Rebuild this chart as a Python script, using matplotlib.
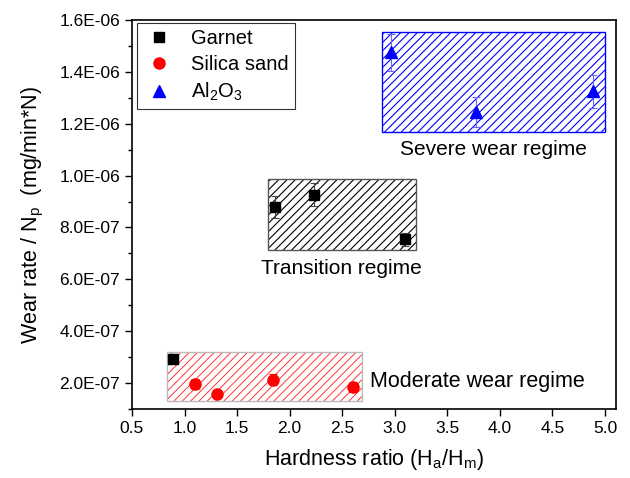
import numpy as np
import matplotlib
matplotlib.use('Agg')
import matplotlib.pyplot as plt
from matplotlib.patches import Rectangle
from matplotlib.lines import Line2D
from matplotlib.ticker import FuncFormatter, MultipleLocator

plt.rcParams['font.family'] = ['Liberation Sans', 'DejaVu Sans']
plt.rcParams['mathtext.default'] = 'regular'
plt.rcParams['hatch.linewidth'] = 0.8

# data
garnet_x = [0.89, 1.86, 2.23, 3.10]
garnet_y = [2.92e-7, 8.80e-7, 9.27e-7, 7.54e-7]
garnet_err = [1.0e-8, 4.2e-8, 4.6e-8, 2.5e-8]

sand_x = [1.10, 1.31, 1.84, 2.60]
sand_y = [1.96e-7, 1.56e-7, 2.13e-7, 1.85e-7]
sand_err = [2.0e-8, 1.5e-8, 2.2e-8, 2.0e-8]

al_x = [2.96, 3.77, 4.89]
al_y = [1.475e-6, 1.245e-6, 1.325e-6]
al_err = [7.0e-8, 5.8e-8, 6.3e-8]

# regime boxes: x0, x1, y0, y1
sev_box = [2.88, 5.00, 1.169e-6, 1.554e-6]
tra_box = [1.79, 3.20, 7.12e-7, 9.85e-7]
mod_box = [0.835, 2.69, 1.31e-7, 3.19e-7]

fig = plt.figure(figsize=(6.3, 4.78), dpi=100)
ax = fig.add_axes([0.2095, 0.1444, 0.7683, 0.8138])

def box(b, hcol, ecol, hatch, hlw=0.8):
    with plt.rc_context({'hatch.linewidth': hlw}):
        ax.add_patch(Rectangle((b[0], b[2]), b[1]-b[0], b[3]-b[2], fill=False,
                               hatch=hatch, edgecolor=hcol, linewidth=0, zorder=1))
    ax.add_patch(Rectangle((b[0], b[2]), b[1]-b[0], b[3]-b[2], fill=False,
                           edgecolor=ecol, linewidth=1.0, zorder=1))

box(sev_box, 'blue', 'blue', '////')
box(tra_box, 'black', '#555555', '////')
box(mod_box, '#ff3333', '#bbbbbb', '////', 0.7)

ax.errorbar(garnet_x, garnet_y, yerr=garnet_err, fmt='s', color='black', ms=7,
            ecolor='#444444', elinewidth=0.8, capsize=3, capthick=0.8, zorder=3)
ax.errorbar(sand_x, sand_y, yerr=sand_err, fmt='o', color='red', ms=8,
            ecolor='red', elinewidth=0.8, capsize=3, capthick=0.8, zorder=3)
ax.errorbar(al_x, al_y, yerr=al_err, fmt='^', color='blue', ms=9,
            ecolor='#6666ff', elinewidth=0.8, capsize=3, capthick=0.8, zorder=3)

ax.text(3.94, 1.10e-6, 'Severe wear regime', fontsize=15, ha='center', va='center')
ax.text(2.49, 6.40e-7, 'Transition regime', fontsize=15, ha='center', va='center')
ax.text(2.76, 2.05e-7, 'Moderate wear regime', fontsize=15.5, ha='left', va='center')

ax.set_xlim(0.5, 5.105)
ax.set_ylim(1e-7, 1.6e-6)
ax.xaxis.set_major_locator(MultipleLocator(0.5))
ax.yaxis.set_major_locator(MultipleLocator(2e-7))
ax.yaxis.set_minor_locator(MultipleLocator(1e-7))
ax.yaxis.set_major_formatter(FuncFormatter(lambda v, p: '%.1E' % v))
ax.tick_params(axis='both', which='major', labelsize=12.5, length=5, width=1)
ax.tick_params(axis='y', which='minor', length=3, width=1)
for s in ax.spines.values():
    s.set_linewidth(1.2)

ax.set_xlabel('Hardness ratio (H$_a$/H$_m$)', fontsize=15.5, labelpad=8)
ax.set_ylabel('Wear rate / N$_p$  (mg/min*N)', fontsize=15.5, labelpad=10)

handles = [Line2D([], [], ls='none', marker='s', color='black', ms=7),
           Line2D([], [], ls='none', marker='o', color='red', ms=8),
           Line2D([], [], ls='none', marker='^', color='blue', ms=9)]
labels = ['Garnet', 'Silica sand', 'Al$_2$O$_3$']
leg = ax.legend(handles, labels, loc='upper left', bbox_to_anchor=(137/630, 1-23/478),
                bbox_transform=fig.transFigure, borderaxespad=0, fontsize=14.5,
                frameon=True, fancybox=False, edgecolor='black', borderpad=0.3,
                handletextpad=0.8, labelspacing=0.35, handlelength=1.6)
leg.get_frame().set_linewidth(0.8)

fig.savefig('out.png', dpi=100)
